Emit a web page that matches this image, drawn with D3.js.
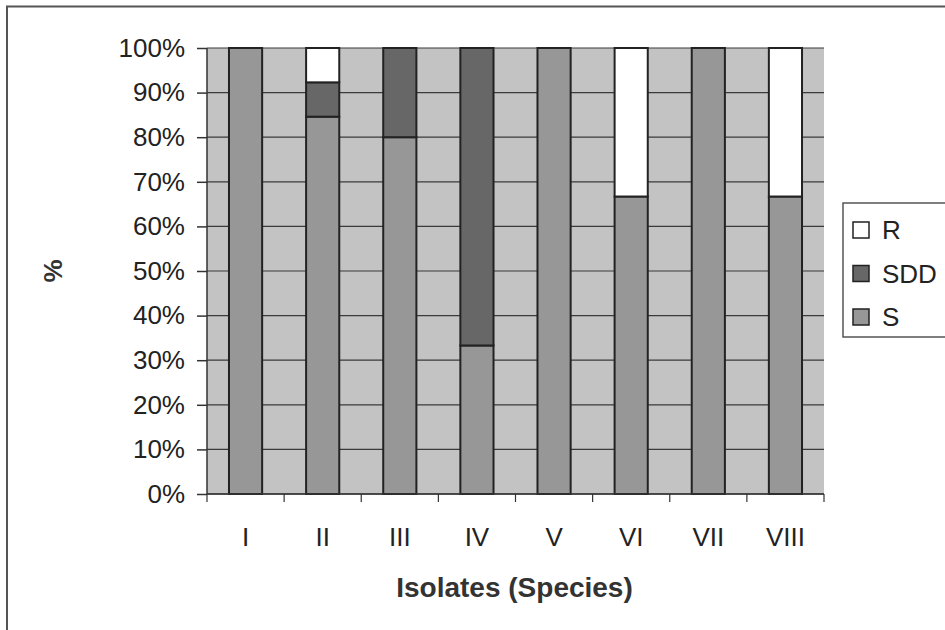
<!DOCTYPE html>
<html>
<head>
<meta charset="utf-8">
<script src="https://cdn.jsdelivr.net/npm/d3@7"></script>
<style>
  body { margin: 0; background: #fff; }
  svg { display: block; font-family: "Liberation Sans", Arial, sans-serif; }
</style>
</head>
<body>
<div id="chart"></div>
<script>
// isolates and the share (%) of each result per isolate
const isolates = ["I", "II", "III", "IV", "V", "VI", "VII", "VIII"];
const valuesS = [100, 84.6, 80, 33.3, 100, 66.7, 100, 66.7];
const valuesSDD = [0, 7.7, 20, 66.7, 0, 0, 0, 0];
const valuesR = [0, 7.7, 0, 0, 0, 33.3, 0, 33.3];
const seriesKeys = ["S", "SDD", "R"];
const legendOrder = ["R", "SDD", "S"];
const yTicks = [0, 10, 20, 30, 40, 50, 60, 70, 80, 90, 100];

const width = 945;
const height = 630;
const plot = { left: 207, right: 824, top: 48, bottom: 494 };
const colors = { S: "#979797", SDD: "#676767", R: "#ffffff" };

const svg = d3.select("#chart")
    .append("svg")
    .attr("width", width)
    .attr("height", height);

// outer chart border (cut off at right and bottom)
svg.append("rect")
    .attr("x", 7)
    .attr("y", 6.5)
    .attr("width", 960)
    .attr("height", 660)
    .attr("fill", "none")
    .attr("stroke", "#555")
    .attr("stroke-width", 2);

const x = d3.scaleBand()
    .domain(isolates)
    .range([plot.left, plot.right])
    .paddingInner(0.57)
    .paddingOuter(0.285);

const y = d3.scaleLinear()
    .domain([0, 100])
    .range([plot.bottom, plot.top]);

const table = isolates.map((name, i) => ({
    name: name, S: valuesS[i], SDD: valuesSDD[i], R: valuesR[i]
}));
const stacked = d3.stack().keys(seriesKeys)(table);

// plot background
svg.append("rect")
    .attr("x", plot.left)
    .attr("y", plot.top)
    .attr("width", plot.right - plot.left)
    .attr("height", plot.bottom - plot.top)
    .attr("fill", "#c3c3c3");

// horizontal gridlines
svg.append("g")
    .selectAll("line")
    .data(yTicks)
    .enter()
    .append("line")
    .attr("x1", plot.left)
    .attr("x2", plot.right)
    .attr("y1", d => y(d))
    .attr("y2", d => y(d))
    .attr("stroke", "#3a3a3a")
    .attr("stroke-width", 1.2);

// stacked bars
svg.append("g")
    .selectAll("g")
    .data(stacked)
    .enter()
    .append("g")
    .attr("fill", d => colors[d.key])
    .selectAll("rect")
    .data(d => d.filter(p => p[1] - p[0] > 0))
    .enter()
    .append("rect")
    .attr("x", d => x(d.data.name))
    .attr("y", d => y(d[1]))
    .attr("width", x.bandwidth())
    .attr("height", d => y(d[0]) - y(d[1]))
    .attr("stroke", "#222")
    .attr("stroke-width", 2);

// y axis
const yAxis = svg.append("g")
    .attr("transform", "translate(" + plot.left + ",0)")
    .call(d3.axisLeft(y).tickValues(yTicks).tickSize(10).tickPadding(12)
        .tickFormat(d => d + "%"));
yAxis.selectAll("text")
    .attr("font-size", "26px")
    .attr("font-family", "Liberation Sans, Arial, sans-serif")
    .attr("fill", "#222");
yAxis.selectAll("line, path").attr("stroke", "#333").attr("stroke-width", 1.5);
yAxis.select(".domain").attr("d", "M0," + plot.top + "V" + plot.bottom);

// x axis: ticks between categories
const xAxis = svg.append("g")
    .attr("transform", "translate(0," + plot.bottom + ")");
xAxis.append("line")
    .attr("x1", plot.left)
    .attr("x2", plot.right)
    .attr("stroke", "#333")
    .attr("stroke-width", 1.5);
const boundaries = isolates.map(d => x(d) - x.step() * x.paddingInner() / 2)
    .concat([plot.right]);
xAxis.selectAll(".tick")
    .data(boundaries)
    .enter()
    .append("line")
    .attr("x1", d => d)
    .attr("x2", d => d)
    .attr("y1", 0)
    .attr("y2", 8)
    .attr("stroke", "#333")
    .attr("stroke-width", 1.2);
xAxis.selectAll(".label")
    .data(isolates)
    .enter()
    .append("text")
    .attr("x", d => x(d) + x.bandwidth() / 2)
    .attr("y", 52)
    .attr("text-anchor", "middle")
    .attr("font-size", "26px")
    .attr("fill", "#222")
    .text(d => d);

// axis titles
svg.append("text")
    .attr("x", (plot.left + plot.right) / 2 - 1)
    .attr("y", 597)
    .attr("text-anchor", "middle")
    .attr("font-size", "28px")
    .attr("font-weight", "bold")
    .attr("fill", "#333")
    .text("Isolates (Species)");

svg.append("text")
    .attr("transform", "translate(62,271) rotate(-90)")
    .attr("text-anchor", "middle")
    .attr("font-size", "26px")
    .attr("font-weight", "bold")
    .attr("fill", "#333")
    .text("%");

// legend
const legend = svg.append("g");
legend.append("rect")
    .attr("x", 843)
    .attr("y", 203)
    .attr("width", 120)
    .attr("height", 134)
    .attr("fill", "#fff")
    .attr("stroke", "#555")
    .attr("stroke-width", 1.5);
const items = legend.selectAll(".item")
    .data(legendOrder)
    .enter()
    .append("g")
    .attr("transform", (d, i) => "translate(853," + (222 + i * 43.5) + ")");
items.append("rect")
    .attr("width", 16)
    .attr("height", 16)
    .attr("fill", d => colors[d])
    .attr("stroke", "#222")
    .attr("stroke-width", 1.5);
items.append("text")
    .attr("x", 29)
    .attr("y", 17)
    .attr("font-size", "26px")
    .attr("fill", "#222")
    .text(d => d);
</script>
</body>
</html>
